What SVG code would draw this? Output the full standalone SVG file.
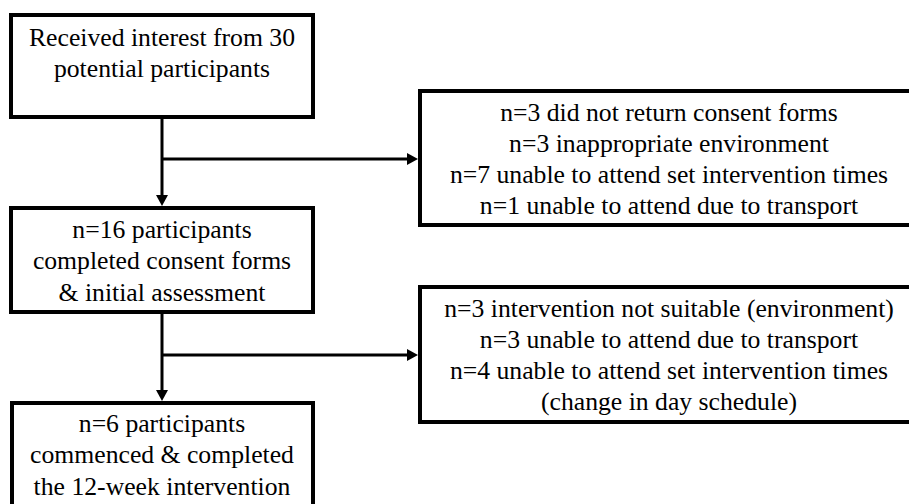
<svg xmlns="http://www.w3.org/2000/svg" width="909" height="504" viewBox="0 0 909 504">
<defs>
<style>
.box{fill:#fff;stroke:#000;stroke-width:4}
.c{fill:none;stroke:#000;stroke-width:3}
</style>
<marker id="ah" markerWidth="11" markerHeight="12" refX="0" refY="6" orient="auto" markerUnits="userSpaceOnUse">
<path d="M0,0 L11,6 L0,12 z" fill="#000"/>
</marker>
</defs>
<rect width="909" height="504" fill="#fff"/>
<g id="connectors">
<line class="c" x1="162" y1="117" x2="162" y2="195" marker-end="url(#ah)"/>
<line class="c" x1="162" y1="159" x2="407" y2="159" marker-end="url(#ah)"/>
<line class="c" x1="162" y1="312" x2="162" y2="390" marker-end="url(#ah)"/>
<line class="c" x1="162" y1="355" x2="407" y2="355" marker-end="url(#ah)"/>
</g>
<g id="n1" font-family="'Liberation Serif', serif" font-size="25.7" text-anchor="middle">
<rect class="box" x="11" y="15" width="302" height="102"/>
<text x="162" y="45.7">Received interest from 30</text>
<text x="162" y="76.7">potential participants</text>
</g>
<g id="n2" font-family="'Liberation Serif', serif" font-size="25.7" text-anchor="middle">
<rect class="box" x="11" y="208" width="302" height="104"/>
<text x="162" y="238.3">n=16 participants</text>
<text x="162" y="269.3">completed consent forms</text>
<text x="162" y="300.5">&amp; initial assessment</text>
</g>
<g id="n3" font-family="'Liberation Serif', serif" font-size="25.7" text-anchor="middle">
<rect class="box" x="12" y="403" width="301" height="120"/>
<text x="162" y="432.3">n=6 participants</text>
<text x="162" y="463.3">commenced &amp; completed</text>
<text x="162" y="494.5">the 12-week intervention</text>
</g>
<g id="n4" font-family="'Liberation Serif', serif" font-size="25.7" text-anchor="middle">
<rect class="box" x="420" y="91" width="498" height="134"/>
<text x="669" y="121">n=3 did not return consent forms</text>
<text x="669" y="152">n=3 inappropriate environment</text>
<text x="669" y="183">n=7 unable to attend set intervention times</text>
<text x="669" y="214">n=1 unable to attend due to transport</text>
</g>
<g id="n5" font-family="'Liberation Serif', serif" font-size="25.7" text-anchor="middle">
<rect class="box" x="420" y="287" width="498" height="135"/>
<text x="669" y="317">n=3 intervention not suitable (environment)</text>
<text x="669" y="348">n=3 unable to attend due to transport</text>
<text x="669" y="379">n=4 unable to attend set intervention times</text>
<text x="669" y="410">(change in day schedule)</text>
</g>
</svg>
